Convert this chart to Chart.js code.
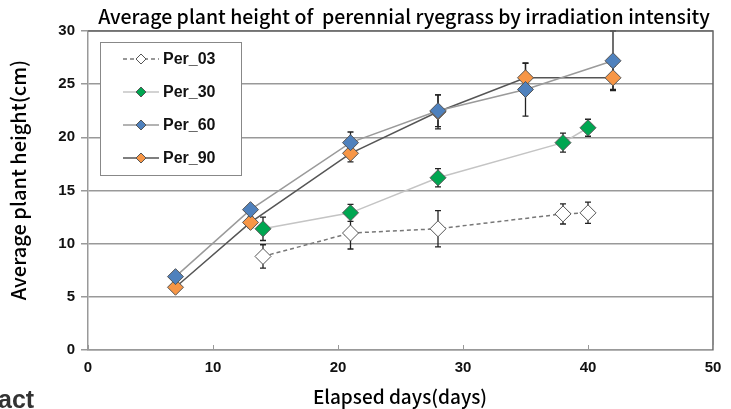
<!DOCTYPE html>
<html>
<head>
<meta charset="utf-8">
<script src="https://cdn.jsdelivr.net/npm/chart.js@4.4.1/dist/chart.umd.min.js"></script>
<style>
  html, body { margin: 0; padding: 0; background: #fff; }
  #wrap { position: relative; width: 731px; height: 409px; overflow: hidden; }
  #chart { position: absolute; left: 0; top: 0; }
  #cut { position: absolute; left: -2px; top: 385px; font: bold 25px "Liberation Sans", Arial, sans-serif; color: #333; }
</style>
</head>
<body>
<div id="wrap">
  <canvas id="chart" width="731" height="409"></canvas>
  <div id="cut">act</div>
</div>
<script>
// values (days, cm, +/- error)
const days03 = [14, 21, 28, 38, 40];
const per03 = [8.8, 11.0, 11.4, 12.8, 12.9];
const err03 = [1.1, 1.5, 1.7, 0.95, 1.0];

const days30 = [14, 21, 28, 38, 40];
const per30 = [11.4, 12.9, 16.2, 19.5, 20.9];
const err30 = [1.1, 0.8, 0.85, 0.9, 0.8];

const days60 = [7, 13, 21, 28, 35, 42];
const per60 = [6.9, 13.2, 19.5, 22.5, 24.5, 27.2];
const err60 = [0.3, 0.4, 1.0, 1.5, 2.5, 2.8];

const days90 = [7, 13, 21, 28, 35, 42];
const per90 = [5.9, 12.0, 18.5, 22.4, 25.6, 25.6];
const err90 = [0.3, 0.5, 0.8, 1.6, 1.35, 1.1];

const xTicks = [0, 10, 20, 30, 40, 50];
const yTicks = [0, 5, 10, 15, 20, 25, 30];

const chartTitle = 'Average plant height of  perennial ryegrass by irradiation intensity';
const xTitle = 'Elapsed days(days)';
const yTitle = 'Average plant height(cm)';
const font = '"Liberation Sans", Arial, sans-serif';
const titleFont = '"Noto Sans CJK JP", "Noto Sans", sans-serif';

const toPoints = (xs, ys) => xs.map((x, i) => ({ x: x, y: ys[i] }));

function series(label, xs, ys, errs, fill, line, dash) {
    return {
        label: label,
        data: toPoints(xs, ys),
        errors: errs,
        borderColor: line,
        borderWidth: 1.5,
        borderDash: dash,
        backgroundColor: fill,
        pointStyle: 'rectRot',
        pointRadius: 8,
        pointHoverRadius: 8,
        pointBackgroundColor: fill,
        pointBorderColor: '#555',
        pointBorderWidth: 1,
        tension: 0,
        fill: false
    };
}

// draw a text so it spans about `width` pixels
function fitText(ctx, text, x, y, width, weight) {
    ctx.font = weight + ' 20px ' + titleFont;
    const size = 20 * width / ctx.measureText(text).width;
    ctx.font = weight + ' ' + size.toFixed(1) + 'px ' + titleFont;
    ctx.fillText(text, x, y);
}

// error bars, drawn under the markers
const errorBars = {
    id: 'errorBars',
    beforeDatasetsDraw(chart) {
        const ctx = chart.ctx;
        const xs = chart.scales.x, ys = chart.scales.y;
        const area = chart.chartArea;
        ctx.save();
        ctx.beginPath();
        ctx.rect(area.left, area.top - 1, area.right - area.left, area.bottom - area.top + 1);
        ctx.clip();
        ctx.strokeStyle = '#222';
        ctx.lineWidth = 1.3;
        chart.data.datasets.forEach(ds => {
            ds.data.forEach((p, i) => {
                const e = ds.errors[i];
                const px = xs.getPixelForValue(p.x);
                const top = ys.getPixelForValue(p.y + e);
                const bot = ys.getPixelForValue(p.y - e);
                ctx.beginPath();
                ctx.moveTo(px, top); ctx.lineTo(px, bot);
                ctx.moveTo(px - 3, top); ctx.lineTo(px + 3, top);
                ctx.moveTo(px - 3, bot); ctx.lineTo(px + 3, bot);
                ctx.stroke();
            });
        });
        ctx.restore();
    }
};

// frame, inner x ticks, titles and the boxed legend
const decorations = {
    id: 'decorations',
    beforeDatasetsDraw(chart) {
        const ctx = chart.ctx;
        const a = chart.chartArea;
        const xs = chart.scales.x;
        ctx.save();
        ctx.strokeStyle = '#666';
        ctx.lineWidth = 1.5;
        ctx.beginPath();
        ctx.moveTo(a.left, a.top); ctx.lineTo(a.right, a.top); ctx.lineTo(a.right, a.bottom);
        ctx.stroke();
        ctx.strokeStyle = '#999';
        ctx.lineWidth = 1;
        xTicks.forEach(v => {
            const px = Math.round(xs.getPixelForValue(v)) + 0.5;
            ctx.beginPath();
            ctx.moveTo(px, a.bottom); ctx.lineTo(px, a.bottom - 5);
            ctx.stroke();
        });
        ctx.restore();
    },
    afterDraw(chart) {
        const ctx = chart.ctx;
        ctx.save();
        ctx.fillStyle = '#000';
        ctx.textAlign = 'center';
        ctx.textBaseline = 'middle';
        fitText(ctx, chartTitle, 404, 17, 612, '500');
        fitText(ctx, xTitle, 400, 397, 174, '500');
        ctx.save();
        ctx.translate(18, 180);
        ctx.rotate(-Math.PI / 2);
        fitText(ctx, yTitle, 0, 0, 240, '500');
        ctx.restore();

        // legend box
        ctx.fillStyle = '#fff';
        ctx.fillRect(100, 42, 141, 134);
        ctx.strokeStyle = '#888';
        ctx.lineWidth = 1;
        ctx.strokeRect(100.5, 42.5, 141, 133);
        chart.data.datasets.forEach((ds, i) => {
            const y = 59 + i * 33;
            ctx.strokeStyle = ds.borderColor;
            ctx.lineWidth = 1.5;
            ctx.setLineDash(ds.borderDash || []);
            ctx.beginPath();
            ctx.moveTo(123, y); ctx.lineTo(159, y);
            ctx.stroke();
            ctx.setLineDash([]);
            ctx.beginPath();
            ctx.moveTo(141, y - 5); ctx.lineTo(146, y); ctx.lineTo(141, y + 5); ctx.lineTo(136, y);
            ctx.closePath();
            ctx.fillStyle = ds.pointBackgroundColor;
            ctx.fill();
            ctx.strokeStyle = '#555';
            ctx.lineWidth = 1;
            ctx.stroke();
            ctx.fillStyle = '#111';
            ctx.font = 'bold 16px ' + font;
            ctx.textAlign = 'left';
            ctx.fillText(ds.label, 163, y + 1);
        });
        ctx.restore();
    }
};

new Chart(document.getElementById('chart').getContext('2d'), {
    type: 'line',
    data: {
        datasets: [
            series('Per_03', days03, per03, err03, '#ffffff', '#777777', [4, 3]),
            series('Per_30', days30, per30, err30, '#00a651', '#c4c4c4', []),
            series('Per_60', days60, per60, err60, '#4f81bd', '#9a9a9a', []),
            series('Per_90', days90, per90, err90, '#f79646', '#555555', [])
        ]
    },
    options: {
        responsive: false,
        animation: false,
        layout: { padding: { top: 31, right: 18, left: 0, bottom: 0 } },
        plugins: {
            legend: { display: false },
            title: { display: false },
            tooltip: { enabled: false }
        },
        scales: {
            x: {
                type: 'linear',
                min: 0,
                max: 50,
                afterBuildTicks: s => { s.ticks = xTicks.map(v => ({ value: v })); },
                afterFit: s => { s.height = 59; },
                grid: { display: false },
                border: { display: true, color: '#999', width: 1.5 },
                ticks: { color: '#111', font: { family: font, size: 15, weight: 'bold' }, padding: 1 }
            },
            y: {
                min: 0,
                max: 30,
                afterBuildTicks: s => { s.ticks = yTicks.map(v => ({ value: v })); },
                afterFit: s => { s.width = 88; },
                grid: { color: '#999', lineWidth: 1.5, tickLength: 7, drawTicks: true },
                border: { display: true, color: '#999', width: 1.5 },
                ticks: { color: '#111', font: { family: font, size: 15, weight: 'bold' }, padding: 6 }
            }
        }
    },
    plugins: [errorBars, decorations]
});
</script>
</body>
</html>
